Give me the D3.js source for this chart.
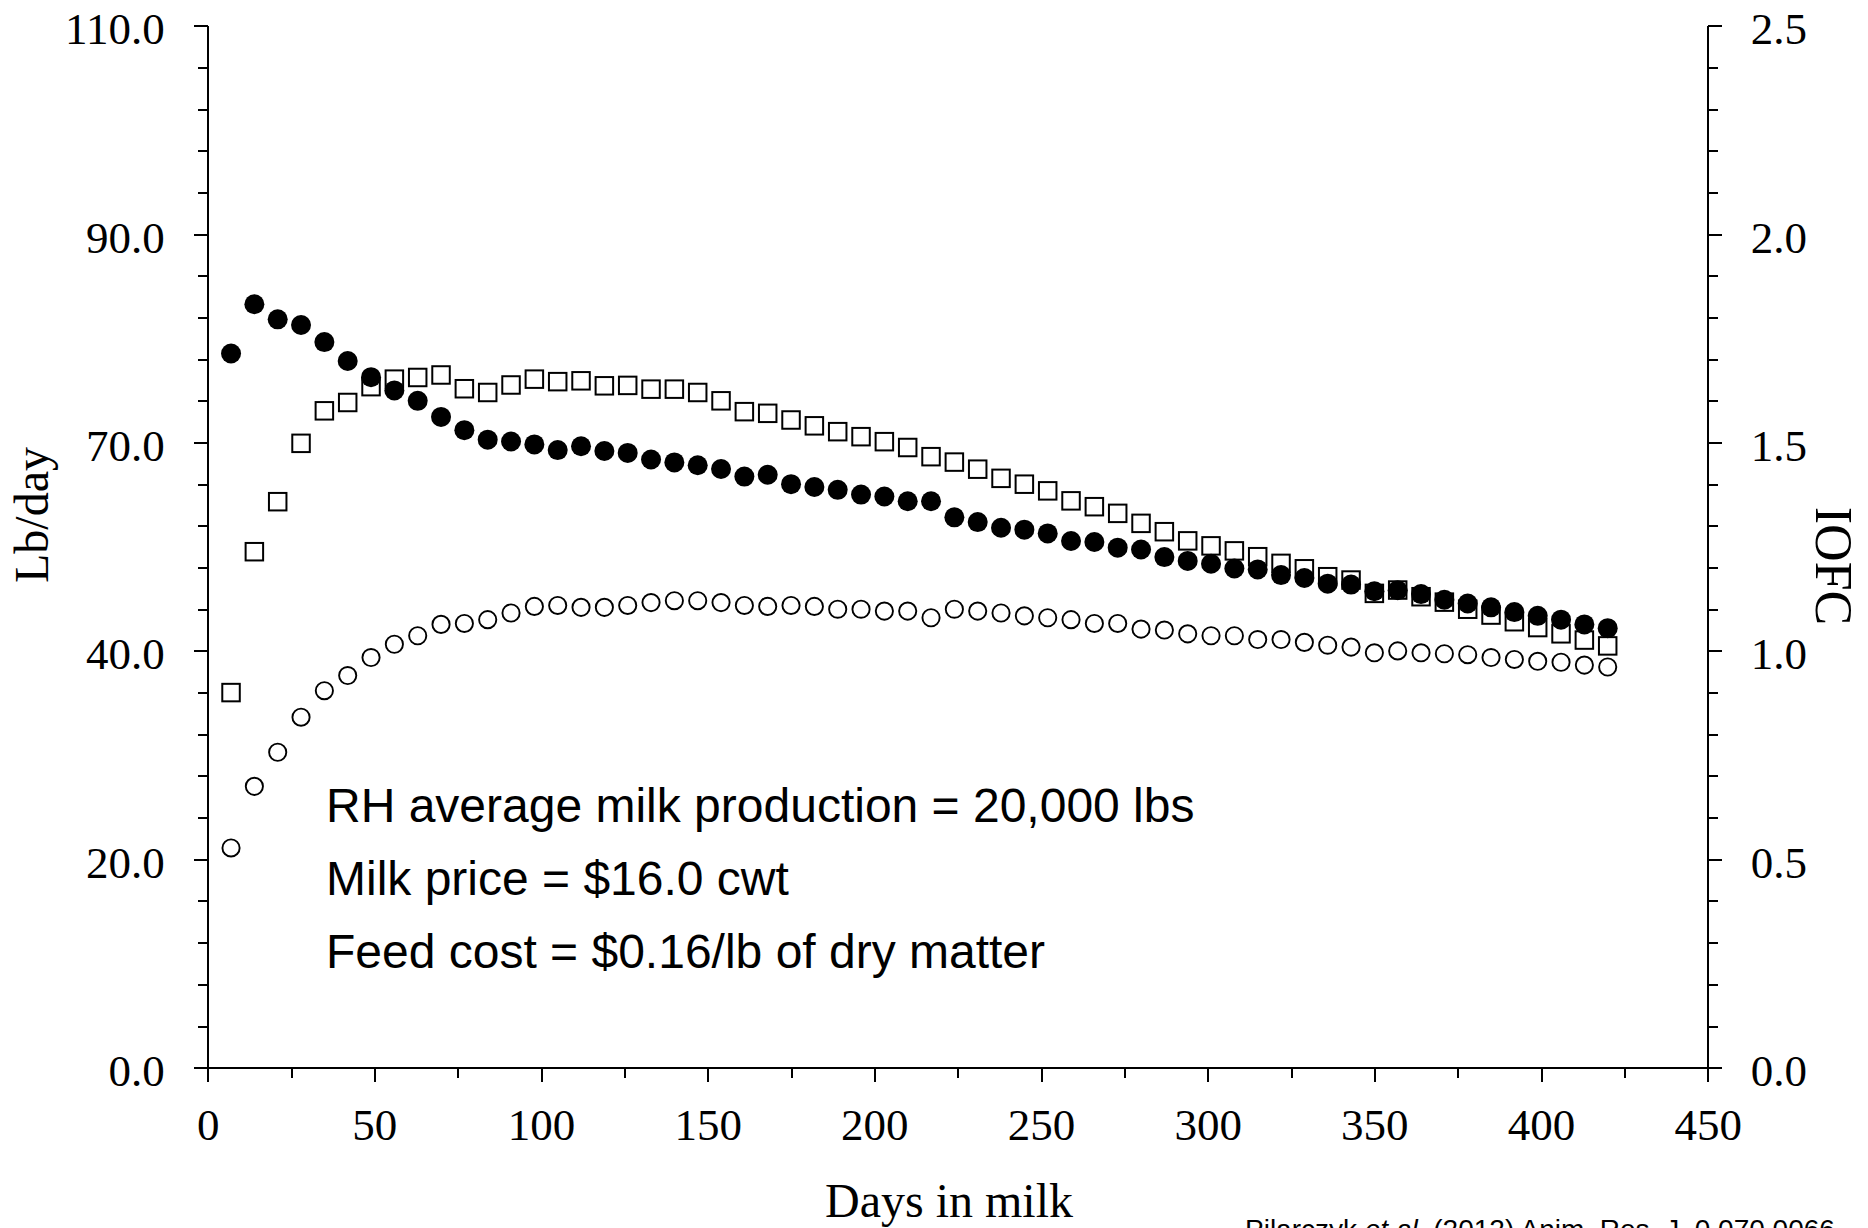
<!DOCTYPE html>
<html>
<head>
<meta charset="utf-8">
<script src="https://cdn.jsdelivr.net/npm/d3@7"></script>
<style>
  html, body { margin: 0; padding: 0; background: #fff; overflow: hidden; }
  svg { display: block; }
  .axis path, .axis line { stroke: #000; stroke-width: 2; shape-rendering: crispEdges; }
  .axis text { font-family: "Liberation Serif", "Times New Roman", serif; font-size: 45px; fill: #000; }
</style>
</head>
<body>
<svg id="chart" width="1868" height="1228"></svg>
<script>
// Days in milk (weekly)
const days = [7, 14, 21, 28, 35, 42, 49, 56, 63, 70, 77, 84, 91, 98, 105, 112, 119, 126, 133, 140,
  147, 154, 161, 168, 175, 182, 189, 196, 203, 210, 217, 224, 231, 238, 245, 252, 259, 266, 273, 280, 287,
  294, 301, 308, 315, 322, 329, 336, 343, 350, 357, 364, 371, 378, 385, 392, 399, 406, 413, 420];

// Milk yield, lb/day (filled circles, left axis)
const milkYield = [75.4, 80.6, 79.0, 78.4, 76.6, 74.6, 72.9, 71.5, 70.4, 68.7, 67.3, 66.3, 66.1, 65.8, 65.2, 65.6, 65.1, 64.9, 64.2, 63.9,
  63.6, 63.2, 62.4, 62.6, 61.6, 61.3, 61.0, 60.5, 60.3, 59.8, 59.8, 58.1, 57.6, 57.0, 56.8, 56.4, 55.6, 55.5, 54.9, 54.7, 53.9,
  53.5, 53.2, 52.7, 52.6, 52.0, 51.7, 51.1, 51.0, 50.3, 50.4, 50.0, 49.4, 49.0, 48.6, 48.1, 47.7, 47.3, 46.8, 46.4];

// Dry matter intake, lb/day (open circles, left axis)
const dryMatterIntake = [23.2, 29.7, 33.3, 37.0, 39.8, 41.4, 43.3, 44.7, 45.6, 46.8, 46.9, 47.3, 48.0, 48.7, 48.8, 48.6, 48.6, 48.8, 49.1, 49.3,
  49.3, 49.1, 48.8, 48.7, 48.8, 48.7, 48.4, 48.4, 48.2, 48.2, 47.5, 48.4, 48.2, 48.0, 47.7, 47.5, 47.3, 46.9, 46.9, 46.3, 46.2,
  45.8, 45.6, 45.6, 45.2, 45.2, 44.9, 44.6, 44.4, 43.8, 44.0, 43.8, 43.7, 43.6, 43.3, 43.1, 42.9, 42.8, 42.5, 42.3];

// Income over feed cost ratio (open squares, right axis)
const iofc = [0.900, 1.238, 1.358, 1.498, 1.576, 1.596, 1.634, 1.652, 1.656, 1.662, 1.629, 1.620, 1.638, 1.652, 1.646, 1.648, 1.636, 1.637, 1.628, 1.628,
  1.620, 1.600, 1.574, 1.570, 1.554, 1.540, 1.526, 1.514, 1.502, 1.488, 1.466, 1.453, 1.436, 1.414, 1.400, 1.384, 1.360, 1.346, 1.330, 1.306, 1.286,
  1.264, 1.252, 1.240, 1.226, 1.210, 1.197, 1.178, 1.170, 1.138, 1.146, 1.130, 1.117, 1.100, 1.086, 1.070, 1.056, 1.041, 1.026, 1.012];

// Axis tick labels
const xTicks = [0, 50, 100, 150, 200, 250, 300, 350, 400, 450];
const leftTickLabels = ["0.0", "20.0", "40.0", "70.0", "90.0", "110.0"];
const rightTicks = [0, 0.5, 1.0, 1.5, 2.0, 2.5];

const notes = [
  "RH average milk production = 20,000 lbs",
  "Milk price = $16.0 cwt",
  "Feed cost = $0.16/lb of dry matter"
];

// Layout
const plot = { left: 207.7, right: 1707.7, top: 25.7, bottom: 1067.7 };
const svg = d3.select("#chart");

const x = d3.scaleLinear().domain([0, 450]).range([plot.left, plot.right]);
const yL = d3.scaleLinear().domain([0, 110]).range([plot.bottom, plot.top]);
const yR = d3.scaleLinear().domain([0, 2.5]).range([plot.bottom, plot.top]);

// Left axis: five even divisions, each split into five
const leftMajor = d3.range(0, 6).map(i => i * 22);
const leftMinor = d3.range(0, 26).filter(i => i % 5 !== 0).map(i => i * 4.4);

const gL = svg.append("g").attr("class", "axis").attr("transform", `translate(${plot.left},0)`);
gL.call(d3.axisLeft(yL).tickValues(leftMinor).tickSize(10).tickSizeOuter(0).tickFormat(""));
gL.call(g => g.append("g").call(d3.axisLeft(yL).tickValues(leftMajor).tickSize(14).tickSizeOuter(0).tickPadding(29)
  .tickFormat((d, i) => leftTickLabels[i])));
gL.selectAll("text").attr("dy", "0.4em");

// Right axis
const rightMinor = d3.range(0, 26).filter(i => i % 5 !== 0).map(i => i / 10);
const gR = svg.append("g").attr("class", "axis").attr("transform", `translate(${plot.right},0)`);
gR.call(d3.axisRight(yR).tickValues(rightMinor).tickSize(10).tickSizeOuter(0).tickFormat(""));
gR.call(g => g.append("g").call(d3.axisRight(yR).tickValues(rightTicks).tickSize(14).tickSizeOuter(0).tickPadding(29)
  .tickFormat(d3.format(".1f"))));
gR.selectAll("text").attr("dy", "0.4em");

// Bottom axis
const xMinor = d3.range(25, 450, 50);
const gB = svg.append("g").attr("class", "axis").attr("transform", `translate(0,${plot.bottom})`);
gB.call(d3.axisBottom(x).tickValues(xMinor).tickSize(10).tickSizeOuter(0).tickFormat(""));
gB.call(g => g.append("g").call(d3.axisBottom(x).tickValues(xTicks).tickSize(14).tickSizeOuter(0).tickPadding(26)
  .tickFormat(d3.format("d"))));

// Axis titles
const titleFont = '"Liberation Serif", "Times New Roman", serif';
svg.append("text")
  .attr("transform", "translate(48,515) rotate(-90)")
  .attr("text-anchor", "middle")
  .style("font-family", titleFont).style("font-size", "48px")
  .text("Lb/day");

svg.append("text")
  .attr("transform", "translate(1816,566) rotate(90)")
  .attr("text-anchor", "middle")
  .style("font-family", titleFont).style("font-size", "52px")
  .text("IOFC");

svg.append("text")
  .attr("x", 949).attr("y", 1217)
  .attr("text-anchor", "middle")
  .style("font-family", titleFont).style("font-size", "48px")
  .text("Days in milk");

// Series
const rows = days.map((d, i) => ({ day: d, milk: milkYield[i], dmi: dryMatterIntake[i], iofc: iofc[i] }));
const side = 17.5;

svg.append("g").selectAll("rect").data(rows).join("rect")
  .attr("x", d => x(d.day) - side / 2)
  .attr("y", d => yR(d.iofc) - side / 2)
  .attr("width", side).attr("height", side)
  .attr("fill", "#fff").attr("stroke", "#000").attr("stroke-width", 2);

svg.append("g").selectAll("circle").data(rows).join("circle")
  .attr("cx", d => x(d.day)).attr("cy", d => yL(d.milk))
  .attr("r", 10).attr("fill", "#000");

svg.append("g").selectAll("circle").data(rows).join("circle")
  .attr("cx", d => x(d.day)).attr("cy", d => yL(d.dmi))
  .attr("r", 8.6).attr("fill", "#fff").attr("stroke", "#000").attr("stroke-width", 1.9);

// Assumptions
svg.append("g").selectAll("text").data(notes).join("text")
  .attr("x", 326)
  .attr("y", (d, i) => 821.7 + i * 73.3)
  .style("font-family", '"Liberation Sans", Arial, sans-serif')
  .style("font-size", "48px")
  .text(d => d);

// Source line
const src = svg.append("text")
  .attr("x", 1245).attr("y", 1239)
  .style("font-family", '"Liberation Sans", Arial, sans-serif')
  .style("font-size", "28px");
src.append("tspan").text("Pilarczyk ");
src.append("tspan").style("font-style", "italic").text("et al.");
src.append("tspan").text(" (2012) Anim. Res. J. 0.070.0066");
</script>
</body>
</html>
